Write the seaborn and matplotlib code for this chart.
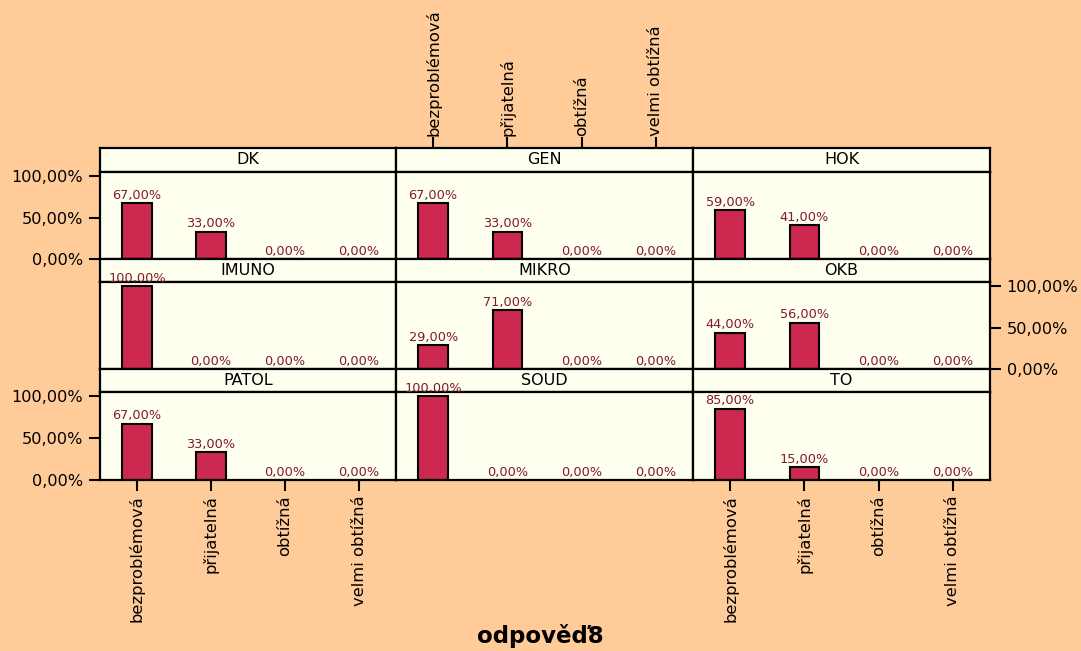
import matplotlib
matplotlib.use("Agg")
import matplotlib.pyplot as plt
import seaborn as sns
import pandas as pd
from matplotlib.ticker import FuncFormatter

sns.set_style("white")
plt.rcParams['font.family'] = ['DejaVu Sans']
plt.rcParams['text.color'] = 'black'
plt.rcParams['xtick.color'] = 'black'
plt.rcParams['ytick.color'] = 'black'
plt.rcParams['xtick.labelcolor'] = 'black'
plt.rcParams['ytick.labelcolor'] = 'black'

panels = ["DK", "GEN", "HOK", "IMUNO", "MIKRO", "OKB", "PATOL", "SOUD", "TO"]
categories = ["bezproblémová", "přijatelná", "obtížná", "velmi obtížná"]
pct_bezproblemova = [67, 67, 59, 100, 29, 44, 67, 100, 85]
pct_prijatelna = [33, 33, 41, 0, 71, 56, 33, 0, 15]
pct_obtizna = [0, 0, 0, 0, 0, 0, 0, 0, 0]
pct_velmi_obtizna = [0, 0, 0, 0, 0, 0, 0, 0, 0]
y_ticks = [0, 50, 100]
title = "odpověď8"

rows = []
for i, p in enumerate(panels):
    for c, vals in zip(categories, [pct_bezproblemova, pct_prijatelna, pct_obtizna, pct_velmi_obtizna]):
        rows.append({"panel": p, "odpoved": c, "pct": vals[i]})
df = pd.DataFrame(rows)

BG = "#ffcc99"
PANEL = "#fffff0"
BAR = "#cc2850"
LAB = "#7f1a2e"

W, H = 1081, 651
fig = plt.figure(figsize=(W / 100, H / 100), dpi=100, facecolor=BG)

col_x = [100, 396, 693, 990]
row_y = [(148, 172, 259), (259, 282, 369), (369, 392, 480)]

fmt = FuncFormatter(lambda v, pos: f"{v:.2f}".replace(".", ",") + "%")

def fx(x):
    return x / W

def fy(y):
    return 1 - y / H

for r in range(3):
    st, sb, pb = row_y[r]
    for c in range(3):
        idx = r * 3 + c
        name = panels[idx]
        x0, x1 = col_x[c], col_x[c + 1]
        # strip
        sax = fig.add_axes([fx(x0), fy(sb), fx(x1 - x0), (sb - st) / H])
        sax.set_facecolor(PANEL)
        sax.set_xlim(-0.5, 3.5)
        sax.set_ylim(0, 1)
        sax.text(1.5, 0.5, name, ha="center", va="center", fontsize=11.5,
                 color="black")
        sax.set_yticks([])
        for sp in sax.spines.values():
            sp.set_linewidth(1.6)
            sp.set_color("black")
        if r == 0 and c == 1:
            sax.set_xticks(range(4))
            sax.set_xticklabels(categories, rotation=90, fontsize=11.8)
            sax.tick_params(axis="x", top=True, bottom=False, labeltop=True,
                            labelbottom=False, length=8, width=1.5, pad=1)
        else:
            sax.set_xticks([])
        # plot
        ax = fig.add_axes([fx(x0), fy(pb), fx(x1 - x0), (pb - sb) / H])
        ax.set_facecolor(PANEL)
        sub = df[df["panel"] == name]
        sns.barplot(data=sub, x="odpoved", y="pct", ax=ax, color=BAR,
                    edgecolor="black", linewidth=1.5, width=0.4, saturation=1,
                    order=categories)
        for patch in ax.patches:
            patch.set_facecolor(BAR)
        ax.set_xlim(-0.5, 3.5)
        ax.set_ylim(0, 105)
        ax.set_xlabel("")
        ax.set_ylabel("")
        labels = [f"{v:.2f}".replace(".", ",") + "%" for v in sub["pct"]]
        ax.bar_label(ax.containers[0], labels=labels, padding=1, color=LAB,
                     fontsize=9.3)
        for sp in ax.spines.values():
            sp.set_linewidth(1.6)
            sp.set_color("black")
        ax.yaxis.set_major_formatter(fmt)
        ax.set_yticks(y_ticks)
        left_ticks = (c == 0 and r in (0, 2))
        right_ticks = (c == 2 and r == 1)
        bottom_ticks = (r == 2 and c in (0, 2))
        ax.tick_params(axis="y", left=left_ticks, labelleft=left_ticks,
                       right=right_ticks, labelright=right_ticks,
                       length=8, width=1.5, labelsize=11.6, pad=4)
        if bottom_ticks:
            ax.set_xticks(range(4))
            ax.set_xticklabels(categories, rotation=90, fontsize=11.8)
            ax.tick_params(axis="x", bottom=True, length=8, width=1.5, pad=3)
        else:
            ax.set_xticks([])

fig.text(0.5, fy(636), title, ha="center", va="center", fontsize=16.5,
         fontweight="bold", color="black")

fig.savefig("out.png", dpi=100, facecolor=BG)
